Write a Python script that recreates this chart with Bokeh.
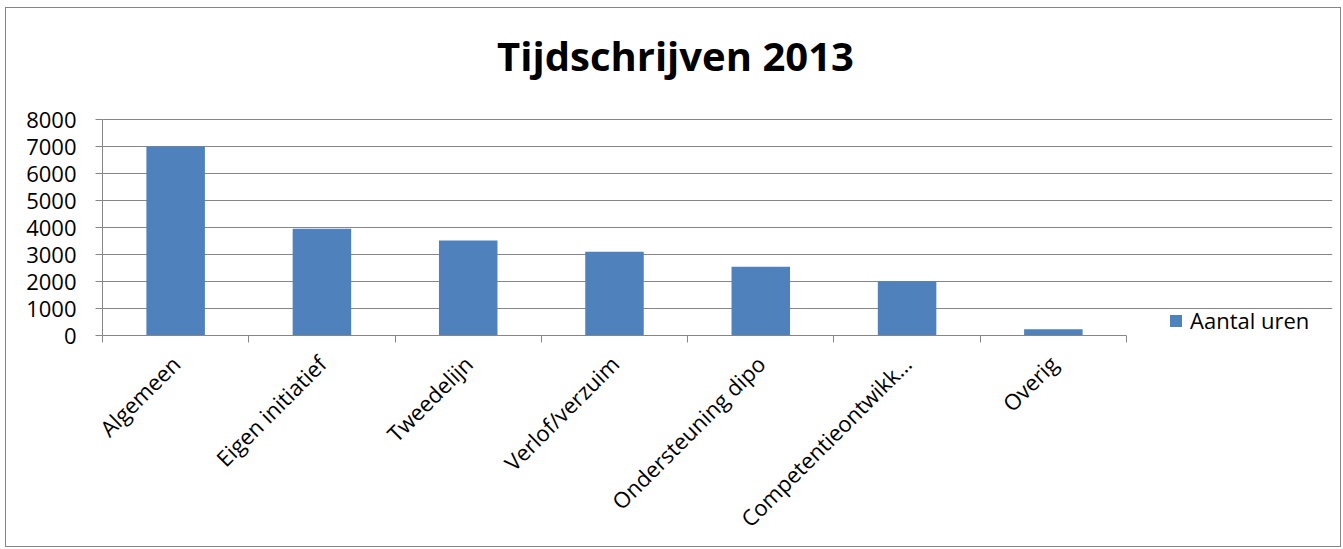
from bokeh.plotting import figure
from bokeh.models import FixedTicker, Legend, LegendItem, Label, ColumnDataSource, Range1d
from bokeh.embed import file_html
from bokeh.resources import INLINE
from math import pi

# ---- data ----
categories = ["Algemeen", "Eigen initiatief", "Tweedelijn", "Verlof/verzuim",
              "Ondersteuning dipo", "Competentieontwikk\u2026", "Overig"]
aantal_uren = [7000, 3950, 3520, 3100, 2550, 2010, 230]
y_ticks = [0, 1000, 2000, 3000, 4000, 5000, 6000, 7000, 8000]
series_name = "Aantal uren"
chart_title = "Tijdschrijven 2013"

FONT = "Open Sans"
GRAY = "#868686"
BLUE = "#4F81BD"

# layout geometry (pixels, canvas coordinates)
W, H = 1336, 540
BL, BR, BB = 96, 10, 213
AXIS_W = 1024          # pixel width of the category axis
AXIS_H = 216           # pixel height of the value axis (0..8000)
n = len(categories)
y_max = y_ticks[-1]
frame_w = W - BL - BR
frame_h = H - BB
x_end = n * frame_w / AXIS_W          # frame runs on to the right (legend area)
y_end = y_max * frame_h / AXIS_H      # frame runs on to the top (title area)

centers = [i + 0.5 for i in range(n)]
bounds = list(range(n + 1))
src = ColumnDataSource(dict(x=centers, top=aantal_uren, cat=categories))

p = figure(width=W, height=H,
           x_range=Range1d(0, x_end), y_range=Range1d(0, y_end),
           output_backend="svg", toolbar_location=None,
           min_border_left=BL, min_border_right=BR,
           min_border_top=0, min_border_bottom=BB)
p.title.visible = False
p.margin = (7, 0, 0, 5)
p.styles = {"border": "1px solid " + GRAY}
p.outline_line_color = None
p.background_fill_color = "white"
p.border_fill_color = "white"

r = p.vbar(x="x", top="top", width=0.4, bottom=0, source=src,
           fill_color=BLUE, line_color=None)

# title, centred over the chart area
px_x = AXIS_W / n
px_y = AXIS_H / y_max
title = Label(x=(669 - 96) / px_x, y=(327 - 47) / px_y, text=chart_title,
              text_align="center", text_baseline="alphabetic",
              text_font=FONT, text_font_size="40px", text_font_style="bold",
              text_color="black")
p.add_layout(title)

# y axis
ya = p.yaxis[0]
ya.bounds = (0, y_max)
ya.ticker = FixedTicker(ticks=y_ticks)
ya.axis_line_color = GRAY
ya.major_tick_line_color = GRAY
ya.major_tick_in = 0
ya.major_tick_out = 7
ya.minor_tick_line_color = None
ya.major_label_text_font = FONT
ya.major_label_text_font_size = "22px"
ya.major_label_text_color = "black"
ya.major_label_standoff = 19

# x axis
xa = p.xaxis[0]
xa.bounds = (0, n)
xa.ticker = FixedTicker(ticks=centers, minor_ticks=bounds)
xa.major_label_overrides = {c: lab for c, lab in zip(centers, categories)}
xa.axis_line_color = GRAY
xa.major_tick_line_color = None
xa.minor_tick_line_color = GRAY
xa.minor_tick_in = 0
xa.minor_tick_out = 7
xa.major_label_orientation = pi / 4
xa.major_label_text_font = FONT
xa.major_label_text_font_size = "22px"
xa.major_label_text_color = "black"
xa.major_label_standoff = 17

# grid
p.xgrid.visible = False
p.ygrid.ticker = FixedTicker(ticks=y_ticks)
p.ygrid.bounds = (0, n)
p.ygrid.grid_line_color = GRAY
p.ygrid.grid_line_width = 1

# legend
legend = Legend(items=[LegendItem(label=series_name, renderers=[r])],
                location=(1066, 0), padding=0, margin=0,
                glyph_width=15, glyph_height=15, label_standoff=7,
                label_text_font=FONT, label_text_font_size="22px",
                label_text_color="black",
                border_line_color=None, background_fill_alpha=0)
p.add_layout(legend, "center")

open("out.html", "w").write(file_html(p, INLINE))
